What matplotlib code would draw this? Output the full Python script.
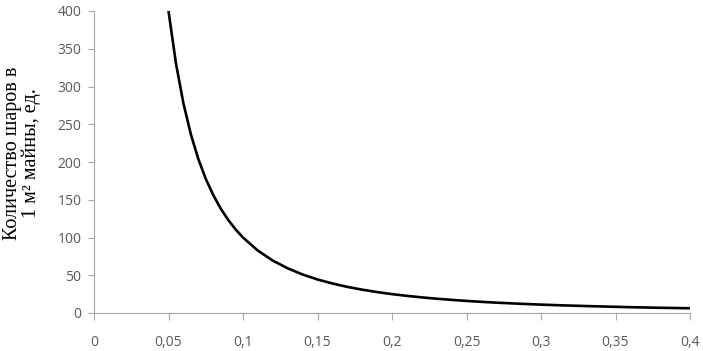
import matplotlib
matplotlib.use("Agg")
import matplotlib.pyplot as plt
from matplotlib.ticker import FuncFormatter

diameter = [0.05, 0.055, 0.06, 0.065, 0.07, 0.075, 0.08, 0.085, 0.09, 0.095, 0.10,
            0.11, 0.12, 0.13, 0.14, 0.15, 0.16, 0.17, 0.18, 0.19, 0.20,
            0.21, 0.22, 0.23, 0.24, 0.25, 0.26, 0.27, 0.28, 0.29, 0.30,
            0.31, 0.32, 0.33, 0.34, 0.35, 0.36, 0.37, 0.38, 0.39, 0.40]
balls = [400.0, 330.6, 277.8, 236.7, 204.1, 177.8, 156.3, 138.4, 123.5, 110.8, 100.0,
         82.6, 69.4, 59.2, 51.0, 44.4, 39.1, 34.6, 30.9, 27.7, 25.0,
         22.7, 20.7, 18.9, 17.4, 16.0, 14.8, 13.7, 12.8, 11.9, 11.1,
         10.4, 9.8, 9.2, 8.7, 8.2, 7.7, 7.3, 6.9, 6.6, 6.25]
x_ticks = [0, 0.05, 0.1, 0.15, 0.2, 0.25, 0.3, 0.35, 0.4]
y_ticks = [0, 50, 100, 150, 200, 250, 300, 350, 400]
y_label = "Количество шаров в\n1 м² майны, ед."

fig = plt.figure(figsize=(7.03, 3.51), dpi=100)
ax = fig.add_axes([94/703, 1-313/351, (690-94)/703, (313-11)/351])
ax.plot(diameter, balls, color="black", lw=1.9, solid_capstyle="round")
ax.set_xlim(0, 0.4)
ax.set_ylim(0, 400)
ax.set_xticks(x_ticks)
ax.set_yticks(y_ticks)
ax.xaxis.set_major_formatter(FuncFormatter(lambda v, p: ("%g" % v).replace(".", ",")))
for s in ["top", "right"]:
    ax.spines[s].set_visible(False)
for s in ["left", "bottom"]:
    ax.spines[s].set_color("#a6a6a6")
    ax.spines[s].set_linewidth(0.8)
ax.tick_params(axis="x", direction="out", length=5, color="#a6a6a6", pad=11,
               labelsize=10, labelcolor="#595959")
ax.tick_params(axis="y", direction="out", length=4, color="#a6a6a6", pad=5,
               labelsize=10, labelcolor="#595959")
for lab in ax.get_xticklabels() + ax.get_yticklabels():
    lab.set_family(["Open Sans", "DejaVu Sans"])
fig.text(22/703, 1-153/351, y_label, rotation=90, ha="center", va="center",
         family="Liberation Serif", fontsize=14.5, linespacing=0.95, multialignment="center")
fig.savefig("out.png", dpi=100)
